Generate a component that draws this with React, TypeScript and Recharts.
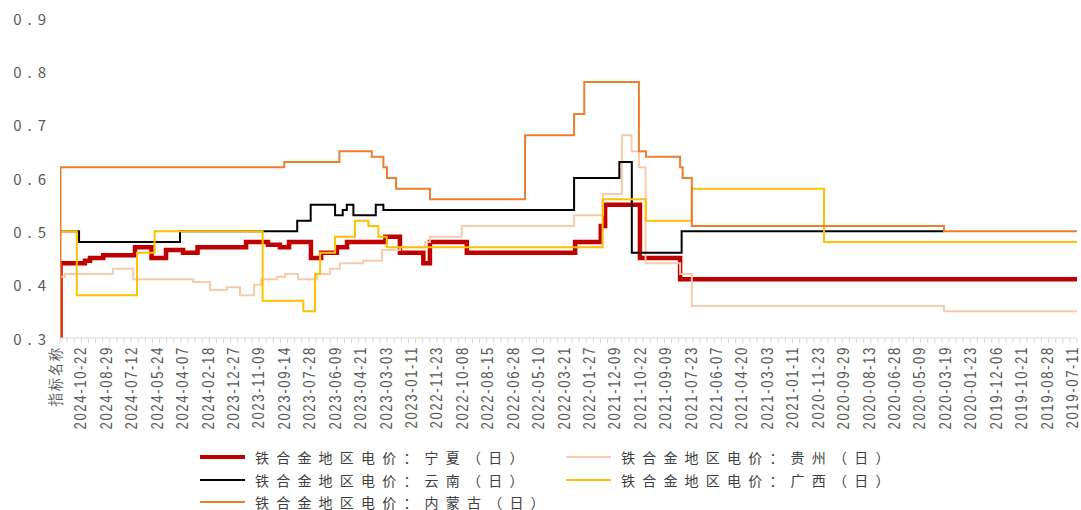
import { LineChart, Line, XAxis, YAxis, Legend } from "recharts";

// category labels along the x axis (index 0..40)
const xLabels = [
  "指标名称",
  "2024-10-22", "2024-08-29", "2024-07-12", "2024-05-24", "2024-04-07", "2024-02-18",
  "2023-12-27", "2023-11-09", "2023-09-14", "2023-07-28", "2023-06-09", "2023-04-21", "2023-03-03", "2023-01-11",
  "2022-11-23", "2022-10-08", "2022-08-15", "2022-06-28", "2022-05-10", "2022-03-21", "2022-01-27",
  "2021-12-09", "2021-10-22", "2021-09-09", "2021-07-23", "2021-06-07", "2021-04-20", "2021-03-03", "2021-01-11",
  "2020-11-23", "2020-09-29", "2020-08-13", "2020-06-28", "2020-05-09", "2020-03-19", "2020-01-23",
  "2019-12-06", "2019-10-21", "2019-08-28", "2019-07-11",
];

const yTicks = [0.3, 0.4, 0.5, 0.6, 0.7, 0.8, 0.9];

// step points: [position on the label axis, price]
const ningxia: [number, number][] = [
  [0, 0.3], [0.02, 0.44], [0.98, 0.445], [1.18, 0.45], [1.7, 0.455], [2.95, 0.47], [3.6, 0.45],
  [4.17, 0.465], [4.84, 0.46], [5.41, 0.47], [7.32, 0.48], [8.18, 0.475], [8.65, 0.47], [9.01, 0.48],
  [9.87, 0.45], [10.27, 0.46], [10.89, 0.47], [11.29, 0.48], [12.8, 0.49], [13.37, 0.46], [14.29, 0.44],
  [14.55, 0.48], [16.0, 0.46], [20.26, 0.48], [21.27, 0.51], [21.44, 0.55], [22.81, 0.45], [24.39, 0.41],
  [40, 0.41],
];

const guizhou: [number, number][] = [
  [0, 0.415], [0.2, 0.42], [2.08, 0.43], [2.88, 0.41], [5.24, 0.405], [5.9, 0.39], [6.56, 0.395],
  [7.08, 0.38], [7.63, 0.4], [7.91, 0.41], [8.53, 0.415], [8.85, 0.42], [9.36, 0.41], [10.11, 0.42],
  [10.62, 0.43], [11.01, 0.44], [11.92, 0.445], [12.66, 0.465], [13.37, 0.47], [14.36, 0.48], [14.55, 0.49],
  [15.8, 0.51], [20.22, 0.53], [21.36, 0.57], [22.1, 0.68], [22.48, 0.65], [22.77, 0.62], [23.03, 0.44],
  [24.39, 0.42], [24.85, 0.36], [34.77, 0.35], [40, 0.35],
];

const yunnan: [number, number][] = [
  [0, 0.5], [0.75, 0.48], [4.72, 0.5], [9.33, 0.52], [9.86, 0.55], [10.82, 0.53], [11.12, 0.54],
  [11.28, 0.55], [11.54, 0.53], [12.42, 0.55], [12.72, 0.54], [20.22, 0.6], [22.0, 0.63], [22.49, 0.46],
  [24.45, 0.5], [34.75, 0.5],
];

const guangxi: [number, number][] = [
  [0, 0.5], [0.66, 0.38], [3.03, 0.46], [3.72, 0.5], [7.97, 0.37], [9.57, 0.35], [10.03, 0.42],
  [10.23, 0.46], [10.82, 0.49], [11.6, 0.52], [12.13, 0.51], [12.52, 0.49], [12.85, 0.47], [21.34, 0.56],
  [23.04, 0.52], [24.85, 0.58], [30.05, 0.48], [40, 0.48],
];

const neimenggu: [number, number][] = [
  [0, 0.3], [0.02, 0.62], [8.82, 0.63], [10.99, 0.65], [12.26, 0.64], [12.72, 0.62], [12.86, 0.6],
  [13.22, 0.58], [14.55, 0.56], [18.29, 0.68], [20.22, 0.72], [20.62, 0.78], [22.77, 0.65], [23.05, 0.64],
  [24.39, 0.62], [24.49, 0.6], [24.85, 0.51], [34.77, 0.5], [40, 0.5],
];

const series = [
  { name: "铁合金地区电价：宁夏（日）", pts: ningxia, color: "#C00000", width: 4.5 },
  { name: "铁合金地区电价：贵州（日）", pts: guizhou, color: "#F8CBAD", width: 2 },
  { name: "铁合金地区电价：云南（日）", pts: yunnan, color: "#000000", width: 2 },
  { name: "铁合金地区电价：广西（日）", pts: guangxi, color: "#FFC000", width: 2 },
  { name: "铁合金地区电价：内蒙古（日）", pts: neimenggu, color: "#ED7D31", width: 2 },
];

const minorTicks = Array.from({ length: 144 }, (_, i) => (i * 40) / 143);
const minorSet = new Set(minorTicks);
const allTicks = Array.from(new Set([...minorTicks, ...xLabels.map((_, i) => i)]));

function XTick(props: any) {
  const { x, y, payload } = props;
  const v = payload.value as number;
  const ax = x + 1;
  const ay = y + 8;
  return (
    <g>
      {minorSet.has(v) && <line x1={x} x2={x} y1={y} y2={y + 5} stroke="#D9D9D9" strokeWidth={1} />}
      {Number.isInteger(v) && (
        <text
          x={0}
          y={0}
          transform={`translate(${ax}, ${ay}) rotate(-90) scale(0.82, 1)`}
          textAnchor="end"
          fill="#595959"
          fontSize={16}
          fontFamily="Liberation Sans, Arial, sans-serif"
          style={{ letterSpacing: 2 }}
        >
          {xLabels[v]}
        </text>
      )}
    </g>
  );
}

function YTick(props: any) {
  const { x, y, payload } = props;
  return (
    <text
      x={x}
      y={y}
      textAnchor="end"
      dominantBaseline="central"
      fill="#595959"
      fontSize={15}
      fontFamily="Noto Sans CJK SC, sans-serif"
      style={{ letterSpacing: 6 }}
    >
      {Number(payload.value).toFixed(1)}
    </text>
  );
}

function LegendBox() {
  const cols = [200, 566];
  const rows = [19, 42, 64];
  return (
    <div style={{ position: "relative", width: 1081, height: 72 }}>
      {series.map((s, i) => {
        const left = cols[i % 2];
        const top = rows[Math.floor(i / 2)];
        return (
          <div
            key={s.name}
            style={{ position: "absolute", left, top: top - 11, height: 22, display: "flex", alignItems: "center" }}
          >
            <div style={{ width: 45, height: s.width, background: s.color, marginRight: 10 }} />
            <span
              style={{
                fontFamily: "Noto Sans CJK SC, sans-serif",
                fontSize: 14,
                letterSpacing: 7.2,
                color: "#404040",
                whiteSpace: "nowrap",
              }}
            >
              {s.name}
            </span>
          </div>
        );
      })}
    </div>
  );
}

export default function App() {
  return (
    <div>
      <style>{"body{margin:0;overflow:hidden;background:#fff}"}</style>
      <LineChart width={1081} height={510} margin={{ top: 18, right: 4, bottom: 0, left: 0 }}>
        <XAxis
          type="number"
          dataKey="x"
          domain={[0, 40]}
          ticks={allTicks}
          interval={0}
          tickLine={false}
          tickSize={0}
          tickMargin={0}
          axisLine={{ stroke: "#D9D9D9" }}
          height={100}
          tick={<XTick />}
          allowDataOverflow
        />
        <YAxis
          type="number"
          domain={[0.3, 0.9]}
          ticks={yTicks}
          axisLine={false}
          tickLine={false}
          width={60}
          tick={<YTick />}
          allowDataOverflow
        />
        <Legend
          verticalAlign="bottom"
          align="left"
          height={72}
          wrapperStyle={{ left: 0, bottom: 0, width: 1081, height: 72 }}
          content={() => <LegendBox />}
        />
        {series.map((s) => (
          <Line
            key={s.name}
            name={s.name}
            data={s.pts.map(([x, v]) => ({ x, v }))}
            dataKey="v"
            type="stepAfter"
            stroke={s.color}
            strokeWidth={s.width}
            dot={false}
            activeDot={false}
            isAnimationActive={false}
          />
        ))}
      </LineChart>
    </div>
  );
}
